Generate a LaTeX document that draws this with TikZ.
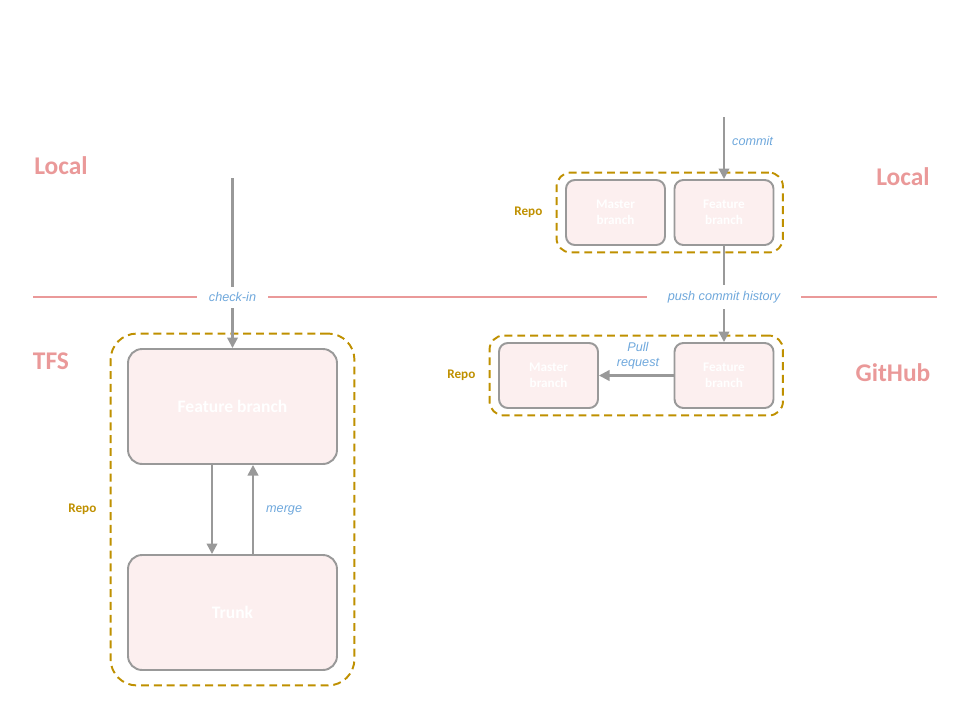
\documentclass[tikz,border=0pt]{standalone}
\usepackage{fontspec}
\setmainfont{Carlito}
\newfontfamily\notefont{Liberation Sans}
\usepackage{tikz}
\usetikzlibrary{arrows.meta}
\usetikzlibrary{positioning}
\usetikzlibrary{fit}
\definecolor{zonered}{HTML}{EA9999}
\definecolor{repogold}{HTML}{BF9000}
\definecolor{noteblue}{HTML}{6FA8DC}
\definecolor{linegray}{HTML}{999999}
\definecolor{boxpink}{HTML}{FCEFEF}
\tikzset{
   zone/.style={text=zonered, font=\bfseries\fontsize{14.5}{16}\selectfont},
   bigbranch/.style={draw=linegray, line width=1.1pt, fill=boxpink, rounded corners=8pt,
      minimum width=4.18cm, minimum height=2.3cm, text=white,
      font=\bfseries\fontsize{10}{12}\selectfont},
   smallbranch/.style={draw=linegray, line width=1.1pt, fill=boxpink, rounded corners=5pt,
      minimum width=1.98cm, minimum height=1.3cm, text=white, align=center,
      font=\bfseries\fontsize{7.5}{9}\selectfont},
   repoframe/.style={draw=repogold, line width=1.1pt, dash pattern=on 4.5pt off 2.8pt,
      rounded corners=#1},
   repotag/.style={text=repogold, font=\bfseries\fontsize{7.5}{9}\selectfont},
   flow/.style={draw=linegray, line width=1.25pt, -{Triangle[length=6pt,width=6pt]}},
   note/.style={text=noteblue, font=\notefont\itshape\fontsize{7.2}{8.5}\selectfont},
   divider/.style={draw=zonered, line width=1pt},
    }
\begin{document}
\begin{tikzpicture}[x=0.02cm, y=-0.02cm]
       \useasboundingbox (0,0) rectangle (960,720);
       % zone labels
       \node[zone] (localL) at (61,166) {Local};
       \node[zone] (tfs) at (51,361) {TFS};
       \node[zone] (localR) at (903,177) {Local};
       \node[zone] (github) at (893,373) {GitHub};
       % dividing line
       \coordinate (divL) at (33,297);
       \coordinate (divR) at (937,297);
       \draw[divider](divL)--(divR);
       % TFS repository
       \node[bigbranch] (tfsfeat) at (232.5,406.5) {Feature branch};
       \node[bigbranch] (trunk) at (232.5,612.5) {Trunk};
       \node[repoframe=15pt, fit=(tfsfeat)(trunk), inner xsep=0.33cm, inner ysep=0.29cm] (tfsrepo) {};
       \node[repotag, left=0.14cm of tfsrepo.west] {Repo};
       % local git repository
       \node[smallbranch] (locmaster) at (615.5,212.5) {Master\\branch};
       \node[smallbranch] (locfeat) at (724,212.5) {Feature\\branch};
       \node[repoframe=8pt, fit=(locmaster)(locfeat), inner xsep=0.17cm, inner ysep=0.13cm] (locrepo) {};
       \node[repotag, left=0.14cm of locrepo.west] {Repo};
       % GitHub repository
       \node[smallbranch] (ghmaster) at (548.5,375.5) {Master\\branch};
       \node[smallbranch] (ghfeat) at (724,375.5) {Feature\\branch};
       \node[repoframe=8pt, fit=(ghmaster)(ghfeat), inner xsep=0.17cm, inner ysep=0.13cm] (ghrepo) {};
       \node[repotag, left=0.14cm of ghrepo.west] {Repo};
       % connectors
       \coordinate (checkstart) at (232.5,178);
       \coordinate (commitstart) at (724,117);
       \draw[flow](checkstart)to(tfsfeat.north);
       \draw[flow]([xshift=-0.41cm]tfsfeat.south)to([xshift=-0.41cm]trunk.north);
       \draw[flow]([xshift=0.41cm]trunk.north)to([xshift=0.41cm]tfsfeat.south);
       \draw[flow](commitstart)to(locfeat.north);
       \draw[flow](locfeat.south)to(ghfeat.north);
       \draw[flow](ghfeat.west)to(ghmaster.east);
       % connector labels
       \node[note, fill=white, inner xsep=7pt] (checkin) at (232.5,297) {check-in};
       \node[note, fill=white, inner xsep=12pt] (push) at (724,297) {push commit history};
       \node[note, anchor=west] (commit) at (726,141) {commit};
       \node[note, anchor=west] (merge) at (260,510) {merge};
       \node[note, align=center] (pull) at (638,356) {Pull\\request};
   \end{tikzpicture}
\end{document}
